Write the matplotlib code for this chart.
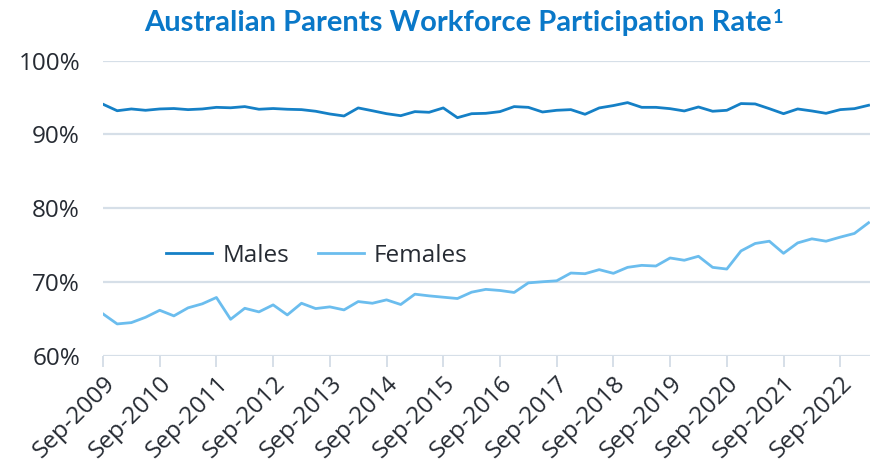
import matplotlib
matplotlib.use("Agg")
import matplotlib.pyplot as plt
import numpy as np

quarters = []
for y in range(2009, 2024):
    for m in ["Mar", "Jun", "Sep", "Dec"]:
        quarters.append(f"{m}-{y}")
quarters = quarters[quarters.index("Sep-2009"):quarters.index("Mar-2023") + 1]

males = [94.08, 93.2, 93.44, 93.26, 93.44, 93.5, 93.35, 93.44, 93.66, 93.6,
         93.76, 93.4, 93.5, 93.4, 93.35, 93.13, 92.76, 92.49, 93.58, 93.2,
         92.8, 92.53, 93.08, 92.99, 93.58, 92.26, 92.8, 92.85, 93.08, 93.76,
         93.66, 93.03, 93.26, 93.35, 92.72, 93.58, 93.9, 94.3, 93.66, 93.66,
         93.48, 93.17, 93.71, 93.13, 93.26, 94.17, 94.12, 93.48, 92.8, 93.44,
         93.17, 92.85, 93.35, 93.48, 93.94]
females = [65.70, 64.34, 64.52, 65.24, 66.19, 65.43, 66.52, 67.06, 67.92, 64.97,
           66.46, 65.97, 66.92, 65.56, 67.14, 66.42, 66.65, 66.24, 67.37, 67.14,
           67.6, 66.97, 68.37, 68.14, 67.96, 67.78, 68.64, 69.02, 68.87, 68.6,
           69.9, 70.05, 70.18, 71.23, 71.14, 71.69, 71.19, 72.0, 72.27, 72.18,
           73.27, 72.96, 73.5, 72.0, 71.77, 74.22, 75.23, 75.54, 73.9, 75.31,
           75.86, 75.54, 76.09, 76.59, 78.04]
series_names = ["Males", "Females"]
yticks = [60, 70, 80, 90, 100]
title = "Australian Parents Workforce Participation Rate"

W, H = 872, 462
fig = plt.figure(figsize=(W / 100, H / 100), dpi=100)
ax = fig.add_axes([103 / W, 1 - 356 / H, (870 - 103) / W, (356 - 60.5) / H])

male_c = "#1580c6"
fem_c = "#6bbdee"
grid_c = "#d6dfe8"
text_c = "#262b33"
font = "Open Sans"
fs = 17.5

x = np.arange(len(quarters))
ax.plot(x, males, color=male_c, lw=2.0, label=series_names[0], solid_joinstyle="round")
ax.plot(x, females, color=fem_c, lw=2.0, label=series_names[1], solid_joinstyle="round")

ax.set_ylim(60, 100)
ax.set_xlim(0, len(quarters) - 0.9)
ax.set_yticks(yticks)
ax.set_yticklabels([f"{v}%" for v in yticks], fontfamily=font, fontsize=fs, color=text_c)
for v in yticks:
    ax.axhline(v, color=grid_c, lw=1.6, zorder=0)

tick_idx = [i for i, q in enumerate(quarters) if q.startswith("Sep")]
ax.set_xticks(tick_idx)
ax.set_xticklabels([quarters[i] for i in tick_idx], rotation=45, ha="right",
                   rotation_mode="anchor", fontfamily=font, fontsize=fs, color=text_c)
ax.tick_params(axis="x", length=8, width=1.4, color=grid_c, pad=3)
ax.tick_params(axis="y", length=0, pad=16.5)
for s in ax.spines.values():
    s.set_visible(False)

leg = ax.legend(loc="center", bbox_to_anchor=(0.279, 0.340), ncol=2, frameon=False,
                prop={"family": font, "size": fs}, handlelength=1.9, handletextpad=0.4,
                columnspacing=1.2, labelcolor=text_c)

t = fig.text(458 / W, 1 - 23 / H, title, ha="center", va="center", fontfamily="Lato",
             fontweight="bold", fontsize=21, color="#0a78c8")
fig.canvas.draw()
bb = t.get_window_extent()
fig.text((bb.x1 + 1) / W, (bb.y1 + 1) / H, "1", ha="left", va="top", fontfamily="Lato",
         fontweight="bold", fontsize=13, color="#0a78c8")

fig.savefig("out.png", dpi=100)
